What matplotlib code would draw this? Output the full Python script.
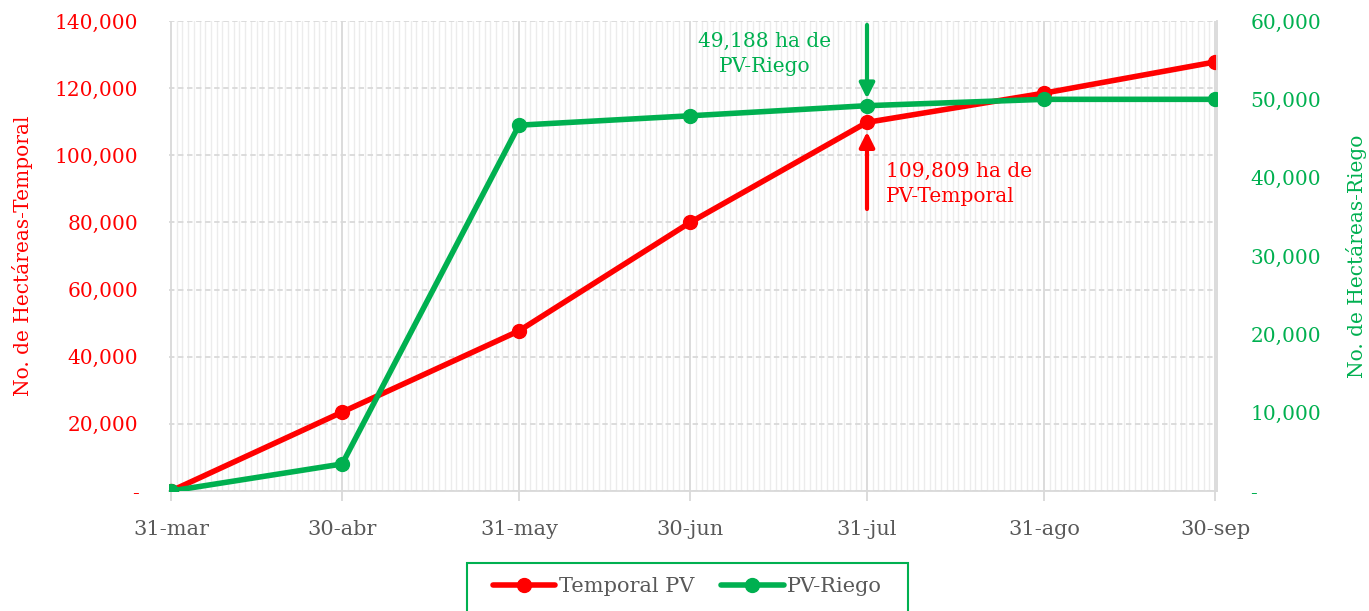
import matplotlib
matplotlib.use("Agg")
import matplotlib.pyplot as plt
from matplotlib.ticker import FixedLocator, FuncFormatter, MultipleLocator
from matplotlib.patches import Rectangle
import datetime as dt

# ---- data ----
dates = ["2023-03-31", "2023-04-30", "2023-05-31", "2023-06-30",
         "2023-07-31", "2023-08-31", "2023-09-30"]
tick_labels = ["31-mar", "30-abr", "31-may", "30-jun", "31-jul", "31-ago", "30-sep"]
temporal_pv = [0, 23500, 47700, 80000, 109809, 118500, 127800]
pv_riego = [0, 3450, 46700, 47900, 49188, 50000, 50000]
temporal_name = "Temporal PV"
riego_name = "PV-Riego"
left_label = "No. de Hectáreas-Temporal"
right_label = "No. de Hectáreas-Riego"
note_riego = "49,188 ha de\nPV-Riego"
note_temporal = "109,809 ha de\nPV-Temporal"

RED = "#ff0000"
GREEN = "#00b050"
GREY_TXT = "#595959"
FONT = ["DejaVu Serif"]

plt.rcParams["font.family"] = FONT

start = dt.date.fromisoformat(dates[0])
x = [(dt.date.fromisoformat(d) - start).days for d in dates]

W, H = 1369, 611
fig = plt.figure(figsize=(W/100, H/100), dpi=100)
ax = fig.add_axes([169/W, 1-491/H, (1217-169)/W, (491-21)/H])
ax2 = ax.twinx()

ax.set_xlim(-0.35, x[-1] + 0.35)
ax.set_ylim(0, 140000)
ax2.set_ylim(0, 60000)

# grids
ax.xaxis.set_major_locator(FixedLocator(x))
ax.xaxis.set_major_formatter(FuncFormatter(
    lambda v, p: tick_labels[x.index(int(round(v)))] if int(round(v)) in x else ""))
ax.xaxis.set_minor_locator(MultipleLocator(1))
ax.grid(True, which="minor", axis="x", color="#ececec", lw=1.0)
ax.grid(True, which="major", axis="x", color="#d9d9d9", lw=1.3)
ax.yaxis.set_major_locator(MultipleLocator(20000))
ax.grid(True, which="major", axis="y", color="#d9d9d9", lw=1.3, ls=(0, (3, 2)))
ax.set_axisbelow(True)

def fmt(v, p):
    return "-" if v == 0 else f"{int(v):,}"

ax.yaxis.set_major_formatter(FuncFormatter(fmt))
ax2.yaxis.set_major_locator(MultipleLocator(10000))
ax2.yaxis.set_major_formatter(FuncFormatter(fmt))

for a in (ax, ax2):
    for s in a.spines.values():
        s.set_color("#d9d9d9")
        s.set_linewidth(1.3)
    a.spines["top"].set_visible(False)
ax2.spines["left"].set_visible(False)
ax2.spines["bottom"].set_visible(False)
ax.spines["left"].set_visible(False)
ax.spines["right"].set_visible(False)

ax.tick_params(axis="x", which="major", length=7, color="#d9d9d9", width=1.3,
               labelsize=15, labelcolor=GREY_TXT, pad=14)
ax.tick_params(axis="x", which="minor", length=0)
ax.tick_params(axis="y", length=0, labelsize=14.5, labelcolor=RED, pad=22)
ax2.tick_params(axis="y", length=0, labelsize=14.5, labelcolor=GREEN, pad=24)

ax.set_ylabel(left_label, color=RED, fontsize=14.5, labelpad=15.5)
ax2.set_ylabel(right_label, color=GREEN, fontsize=14.5, labelpad=18)

l1, = ax.plot(x, temporal_pv, color=RED, lw=4, marker="o", ms=10,
              solid_capstyle="round", label=temporal_name, zorder=3)
l2, = ax2.plot(x, pv_riego, color=GREEN, lw=4, marker="o", ms=10,
               solid_capstyle="round", label=riego_name, zorder=3)

# annotations
xi = x[4]
ax2.annotate("", xy=(xi, pv_riego[4] + 900), xytext=(xi, 59500),
             arrowprops=dict(arrowstyle="-|>,head_length=0.9,head_width=0.45",
                             color=GREEN, lw=3, shrinkA=0, shrinkB=0))
ax2.text(xi - 18, 55800, note_riego, color=GREEN, fontsize=14.5,
         ha="center", va="center", linespacing=1.4)
ax.annotate("", xy=(xi, temporal_pv[4] - 2800), xytext=(xi, 84000),
            arrowprops=dict(arrowstyle="-|>,head_length=0.9,head_width=0.45",
                            color=RED, lw=3, shrinkA=0, shrinkB=0))
ax.text(xi + 3.3, 91500, note_temporal, color=RED, fontsize=14.5,
        ha="left", va="center", linespacing=1.4)

# legend box (drawn as a rectangle, extends past bottom edge)
fig.patches.append(Rectangle((467/W, -0.05), (908-467)/W, 0.05 + 1-563/H,
                             transform=fig.transFigure, fill=False,
                             edgecolor=GREEN, lw=1.5))
leg = fig.legend(handles=[l1, l2], loc="center",
                 bbox_to_anchor=(0.502, 1-587/H), ncol=2,
                 frameon=False, fontsize=15, handlelength=3.0,
                 handletextpad=0.15, columnspacing=1.3, borderaxespad=0)
for t in leg.get_texts():
    t.set_color(GREY_TXT)

fig.savefig("out.png", dpi=100)
